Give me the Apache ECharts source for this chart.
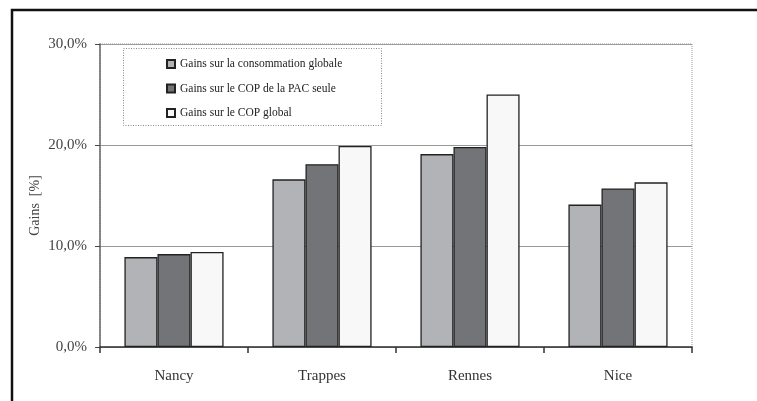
<!DOCTYPE html>
<html>
<head>
<meta charset="utf-8">
<script src="https://cdn.jsdelivr.net/npm/echarts@6/dist/echarts.min.js"></script>
<style>html,body{margin:0;padding:0;background:#fff;}#c{width:757px;height:401px;}</style>
</head>
<body>
<div id="c"></div>
<script>
const categories = ['Nancy', 'Trappes', 'Rennes', 'Nice'];
const seriesNames = ['Gains sur la consommation globale', 'Gains sur le COP de la PAC seule', 'Gains sur le COP global'];
const consoGlobale = [8.9, 16.6, 19.1, 14.1];
const copPacSeule = [9.2, 18.1, 19.8, 15.7];
const copGlobal = [9.4, 19.9, 25.0, 16.3];
const yTicks = [0, 10, 20, 30];

const colors = ['#b2b3b7', '#737478', '#f8f8f8'];
const values = [consoGlobale, copPacSeule, copGlobal];
const font = 'Liberation Serif';

const chart = echarts.init(document.getElementById('c'), null, {renderer: 'canvas'});
chart.setOption({
  animation: false,
  backgroundColor: '#fff',
  textStyle: {fontFamily: font},
  grid: {left: 100, right: 65, top: 44, bottom: 54, show: true, borderColor: '#999', borderWidth: 1, borderType: 'dotted'},
  legend: {
    orient: 'vertical', left: 161, top: 53, itemWidth: 8, itemHeight: 8, itemGap: 12.5,
    icon: 'rect',
    textStyle: {fontFamily: font, fontSize: 11.5, color: '#222'},
    data: seriesNames
  },
  xAxis: {
    type: 'category', data: categories,
    axisLine: {lineStyle: {color: '#333', width: 1.5}},
    axisTick: {show: true, length: 6, lineStyle: {color: '#333', width: 1.5}},
    axisLabel: {fontFamily: font, fontSize: 15, color: '#333', margin: 22}
  },
  yAxis: {
    type: 'value', min: yTicks[0], max: yTicks[yTicks.length - 1], interval: 10,
    name: 'Gains  [%]', nameLocation: 'middle', nameGap: 58, nameMoveOverlap: false,
    nameTextStyle: {fontFamily: font, fontSize: 14, color: '#444', padding: [0, 20, 0, 0]},
    axisLine: {show: true, lineStyle: {color: '#666', width: 1.5}},
    axisTick: {show: true, length: 5, lineStyle: {color: '#444'}},
    axisLabel: {fontFamily: font, fontSize: 15, color: '#444', margin: 13,
      formatter: v => v.toFixed(1).replace('.', ',') + '%'},
    splitLine: {show: true, lineStyle: {color: '#999', width: 1}}
  },
  graphic: [
    {type: 'rect', shape: {x: 12, y: 10, width: 900, height: 500}, style: {fill: 'none', stroke: '#111', lineWidth: 2.5}, z: 100},
    {type: 'rect', shape: {x: 123.5, y: 48.5, width: 258, height: 77}, style: {fill: '#fff', stroke: '#888', lineWidth: 1, lineDash: [1, 1.5]}, z: 1}
  ],
  series: seriesNames.map((n, i) => ({
    name: n, type: 'bar', data: values[i],
    barGap: 0, barCategoryGap: '33%',
    itemStyle: {color: colors[i], borderColor: '#222', borderWidth: 1.3}
  }))
});
</script>
</body>
</html>
